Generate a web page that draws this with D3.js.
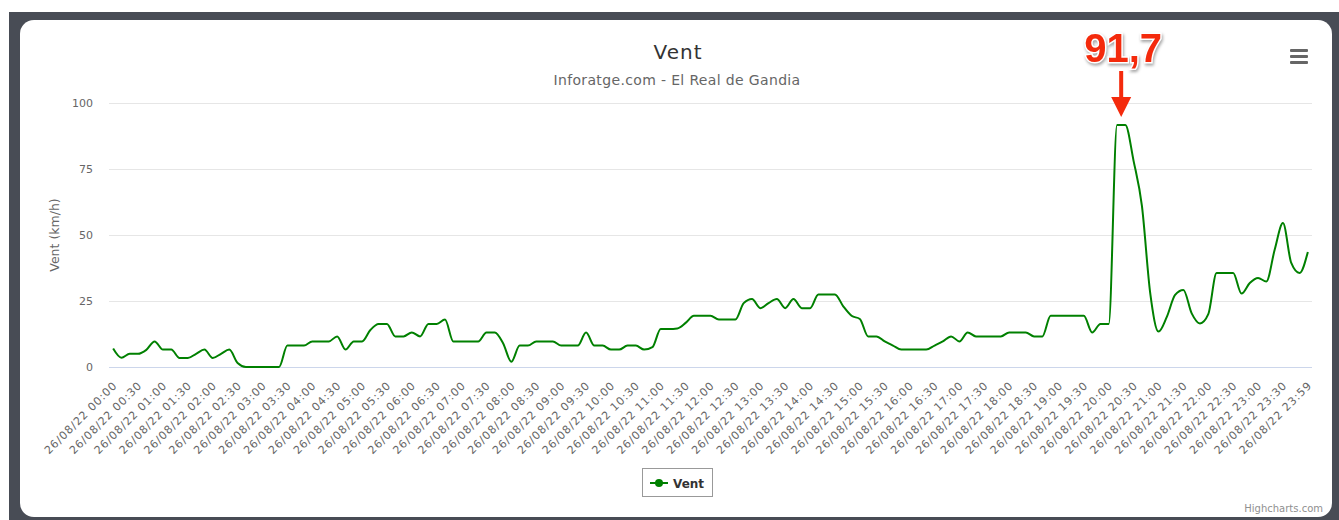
<!DOCTYPE html>
<html>
<head>
<meta charset="utf-8">
<script src="https://cdn.jsdelivr.net/npm/d3@7"></script>
<style>
  body { margin: 0; background: #fff; }
  svg { display: block; font-family: "DejaVu Sans", Verdana, sans-serif; }
</style>
</head>
<body>
<div id="chart"></div>
<script>
// wind speed, one reading every 10 minutes (145 points, last one at 23:59)
var windValues = [
  7, 3.5, 5, 5, 6.5, 9.7, 6.6, 6.6, 3.4, 3.4,
  5, 6.6, 3.4, 5, 6.6, 1.5, 0, 0, 0, 0,
  0, 8.1, 8.1, 8.1, 9.7, 9.7, 9.7, 11.6, 6.6, 9.7,
  9.7, 14, 16.3, 16.3, 11.6, 11.6, 13.1, 11.6, 16.3, 16.3,
  18, 9.7, 9.7, 9.7, 9.7, 13.1, 13.1, 9, 2, 8.1,
  8.1, 9.7, 9.7, 9.7, 8.1, 8.1, 8.1, 13.1, 8.1, 8.1,
  6.6, 6.6, 8.1, 8.1, 6.6, 7.5, 14.4, 14.4, 14.6, 16.7,
  19.4, 19.4, 19.4, 18, 18, 18, 24.2, 25.8, 22.3, 24.2,
  25.8, 22.3, 25.8, 22.3, 22.3, 27.5, 27.5, 27.5, 23, 19.4,
  18.2, 11.6, 11.6, 9.7, 8.1, 6.6, 6.6, 6.6, 6.6, 8.1,
  9.7, 11.6, 9.7, 13.1, 11.6, 11.6, 11.6, 11.6, 13.1, 13.1,
  13.1, 11.6, 11.6, 19.4, 19.4, 19.4, 19.4, 19.4, 13.1, 16.3,
  16.3, 91.7, 91.7, 78, 61, 28, 13.4, 19, 27.3, 29.2,
  20.3, 16.5, 20, 35.6, 35.6, 35.6, 27.8, 31.8, 33.7, 32.4,
  44.4, 54.5, 39.4, 35.6, 43.6
]

// labels shown every 3rd point (every 30 minutes)
var tickLabels = [
  "26/08/22 00:00", "26/08/22 00:30", "26/08/22 01:00", "26/08/22 01:30",
  "26/08/22 02:00", "26/08/22 02:30", "26/08/22 03:00", "26/08/22 03:30",
  "26/08/22 04:00", "26/08/22 04:30", "26/08/22 05:00", "26/08/22 05:30",
  "26/08/22 06:00", "26/08/22 06:30", "26/08/22 07:00", "26/08/22 07:30",
  "26/08/22 08:00", "26/08/22 08:30", "26/08/22 09:00", "26/08/22 09:30",
  "26/08/22 10:00", "26/08/22 10:30", "26/08/22 11:00", "26/08/22 11:30",
  "26/08/22 12:00", "26/08/22 12:30", "26/08/22 13:00", "26/08/22 13:30",
  "26/08/22 14:00", "26/08/22 14:30", "26/08/22 15:00", "26/08/22 15:30",
  "26/08/22 16:00", "26/08/22 16:30", "26/08/22 17:00", "26/08/22 17:30",
  "26/08/22 18:00", "26/08/22 18:30", "26/08/22 19:00", "26/08/22 19:30",
  "26/08/22 20:00", "26/08/22 20:30", "26/08/22 21:00", "26/08/22 21:30",
  "26/08/22 22:00", "26/08/22 22:30", "26/08/22 23:00", "26/08/22 23:30",
  "26/08/22 23:59"
]
var tickEvery = 3

var yTicks = [0, 25, 50, 75, 100]
var peakLabel = "91,7"

var W = 1339, H = 520
var plot = {left: 109, right: 1312, top: 103, bottom: 367}
var FONT = "'DejaVu Sans', Verdana, sans-serif"

var svg = d3.select("#chart").append("svg")
    .attr("width", W)
    .attr("height", H)

// dark frame around the card
svg.append("rect").attr("x", 9).attr("y", 12).attr("width", W - 9).attr("height", H - 12)
    .attr("fill", "#484c55")
svg.append("rect").attr("x", 20).attr("y", 20).attr("width", 1312).attr("height", 497)
    .attr("rx", 14).attr("fill", "#fff")

// scales
var xScale = d3.scalePoint().domain(d3.range(windValues.length))
    .range([plot.left, plot.right]).padding(0.5)
var yScale = d3.scaleLinear().domain([0, 100]).range([plot.bottom, plot.top])

// title
svg.append("text").attr("x", 678).attr("y", 59).attr("text-anchor", "middle")
    .style("font-size", "20px").style("letter-spacing", "1px").style("fill", "#333").text("Vent")
svg.append("text").attr("x", 677).attr("y", 85).attr("text-anchor", "middle")
    .style("font-size", "14px").style("letter-spacing", "0.35px").style("fill", "#666")
    .text("Inforatge.com - El Real de Gandia")

// gridlines + y axis
var yAxis = svg.append("g")
    .attr("transform", "translate(" + plot.left + ",0)")
    .call(d3.axisLeft(yScale).tickValues(yTicks).tickSize(-(plot.right - plot.left)).tickPadding(16))
yAxis.attr("font-family", FONT)
yAxis.select(".domain").remove()
yAxis.selectAll(".tick line").attr("stroke", d => d === 0 ? "#ccd6eb" : "#e6e6e6")
yAxis.selectAll(".tick text").attr("font-size", 11).attr("fill", "#666")

svg.append("text")
    .attr("transform", "translate(59," + ((plot.top + plot.bottom) / 2) + ") rotate(-90)")
    .attr("text-anchor", "middle")
    .style("font-size", "12.5px").style("fill", "#666")
    .text("Vent (km/h)")

// x axis labels, rotated
var tickIdx = tickLabels.map((t, k) => Math.min(k * tickEvery, windValues.length - 1))
var xAxis = svg.append("g")
    .attr("transform", "translate(0," + plot.bottom + ")")
    .call(d3.axisBottom(xScale).tickValues(tickIdx).tickFormat((d, k) => tickLabels[k]).tickSize(0))
xAxis.attr("font-family", FONT)
xAxis.select(".domain").remove()
xAxis.selectAll(".tick text")
    .attr("font-size", 11).attr("fill", "#666")
    .style("letter-spacing", "0.9px")
    .attr("text-anchor", "end")
    .attr("dy", null)
    .attr("transform", "translate(2,17) rotate(-45)")

// the line
var line = d3.line()
    .x((d, i) => xScale(i))
    .y(d => yScale(d))
    .curve(d3.curveMonotoneX)

svg.append("path")
    .datum(windValues)
    .attr("fill", "none")
    .attr("stroke", "#008000")
    .attr("stroke-width", 2)
    .attr("stroke-linejoin", "round")
    .attr("d", line)

// legend
var legend = svg.append("g").attr("transform", "translate(642,468)")
legend.append("rect").attr("x", 0.5).attr("y", 0.5).attr("width", 70).attr("height", 28)
    .attr("fill", "#fff").attr("stroke", "#999")
legend.append("line").attr("x1", 8).attr("x2", 26).attr("y1", 15).attr("y2", 15)
    .attr("stroke", "#008000").attr("stroke-width", 2)
legend.append("circle").attr("cx", 17).attr("cy", 15).attr("r", 4).attr("fill", "#008000")
legend.append("text").attr("x", 31).attr("y", 19.5)
    .style("font-size", "12px").style("font-weight", "bold").style("fill", "#333").text("Vent")

// export menu icon
svg.append("g").selectAll("rect").data([0, 1, 2]).enter().append("rect")
    .attr("x", 1290).attr("y", d => 49 + d * 6).attr("width", 18).attr("height", 3)
    .attr("rx", 1).attr("fill", "#666")

// credits
svg.append("text").attr("x", 1323).attr("y", 512).attr("text-anchor", "end")
    .style("font-size", "10px").style("fill", "#909090").text("Highcharts.com")

// peak annotation
var peakIdx = windValues.indexOf(d3.max(windValues))
var px = (xScale(peakIdx) + xScale(peakIdx + 1)) / 2
var ann = svg.append("g")
ann.append("text").attr("x", px + 2).attr("y", 62).attr("text-anchor", "middle")
    .style("font-family", "'Liberation Sans', Arial, sans-serif")
    .style("font-size", "40px").style("font-weight", "bold")
    .style("fill", "#f42a0c").style("stroke", "#fff").style("stroke-width", 3)
    .style("paint-order", "stroke")
    .style("filter", "drop-shadow(1px 2px 1.5px rgba(0,0,0,0.35))")
    .text(peakLabel)
var tipY = yScale(d3.max(windValues)) - 8
ann.append("rect").attr("x", px - 2).attr("y", 71).attr("width", 4).attr("height", tipY - 71 - 18)
    .attr("fill", "#f42a0c")
ann.append("path")
    .attr("d", "M" + (px - 10) + "," + (tipY - 20) + "L" + (px + 10) + "," + (tipY - 20) + "L" + px + "," + tipY + "Z")
    .attr("fill", "#f42a0c")
</script>
</body>
</html>
